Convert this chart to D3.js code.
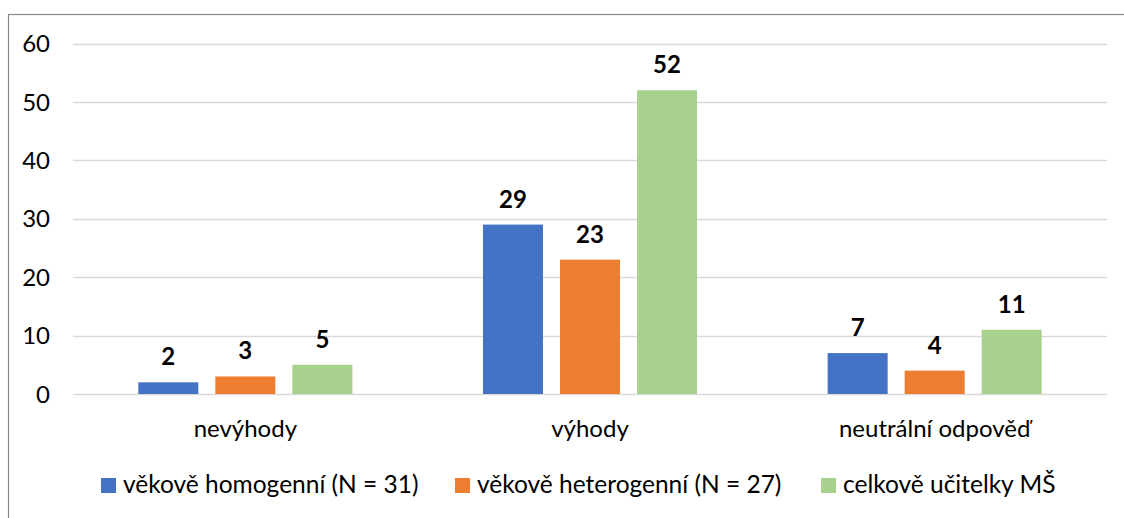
<!DOCTYPE html>
<html><head><meta charset="utf-8">
<script src="https://cdn.jsdelivr.net/npm/d3@7"></script>
<style>body{margin:0;background:#fff}svg{display:block}</style>
</head><body>
<svg id="chart" width="1124" height="518"></svg>
<script>
const categories = ["nevýhody", "výhody", "neutrální odpověď"];
const seriesNames = ["věkově homogenní (N = 31)", "věkově heterogenní (N = 27)", "celkově učitelky MŠ"];
const homogenni = [2, 29, 7];
const heterogenni = [3, 23, 4];
const celkove = [5, 52, 11];
const yTicks = [0, 10, 20, 30, 40, 50, 60];
const colors = ["#4472C4", "#ED7D31", "#A9D18E"];

const seriesValues = [homogenni, heterogenni, celkove];
const svg = d3.select("#chart");
const FONT = "Lato, 'Open Sans', sans-serif";
const FS = 24;

// frame
svg.append("rect").attr("x", 8.5).attr("y", 14.5).attr("width", 1130).attr("height", 520)
  .attr("fill", "#fff").attr("stroke", "#878787").attr("stroke-width", 1.2);

const y = d3.scaleLinear().domain([0, 60]).range([394, 43.5]);
const x0 = d3.scaleBand().domain(categories).range([73, 1107]).paddingInner(0.379).paddingOuter(0.1895);
const x1 = d3.scaleBand().domain(d3.range(seriesNames.length)).range([0, x0.bandwidth()]).paddingInner(0.2208).paddingOuter(0);

// gridlines
svg.append("g").selectAll("line").data(yTicks).join("line")
  .attr("x1", 73).attr("x2", 1107)
  .attr("y1", d => Math.round(y(d)) + 0.5).attr("y2", d => Math.round(y(d)) + 0.5)
  .attr("stroke", "#D9D9D9").attr("stroke-width", 1.3);

// y labels
svg.append("g").selectAll("text").data(yTicks).join("text")
  .attr("x", 50).attr("y", d => y(d)).attr("dy", "0.36em")
  .attr("text-anchor", "end").attr("font-family", FONT).attr("font-size", FS).attr("fill", "#000")
  .text(d => d);

// bars
const groups = svg.append("g").selectAll("g").data(categories).join("g")
  .attr("transform", c => `translate(${x0(c)},0)`);
groups.each(function(c, ci) {
  const g = d3.select(this);
  const data = seriesValues.map((vals, si) => ({si, v: vals[ci]}));
  g.selectAll("rect").data(data).join("rect")
    .attr("x", d => x1(d.si)).attr("width", x1.bandwidth())
    .attr("y", d => y(d.v)).attr("height", d => y(0) - y(d.v))
    .attr("fill", d => colors[d.si]);
  g.selectAll("text").data(data).join("text")
    .attr("x", d => x1(d.si) + x1.bandwidth() / 2).attr("y", d => y(d.v) - 17)
    .attr("text-anchor", "middle").attr("font-family", FONT).attr("font-weight", "bold")
    .attr("font-size", FS).attr("fill", "#000").text(d => d.v);
});

// category labels
svg.append("g").selectAll("text").data(categories).join("text")
  .attr("x", c => x0(c) + x0.bandwidth() / 2).attr("y", 437)
  .attr("text-anchor", "middle").attr("font-family", FONT).attr("font-size", FS).attr("fill", "#000")
  .text(c => c);

// legend
const legendX = [101, 455, 821];
const leg = svg.append("g").selectAll("g").data(seriesNames).join("g")
  .attr("transform", (d, i) => `translate(${legendX[i]},478)`);
leg.append("rect").attr("width", 15).attr("height", 15).attr("fill", (d, i) => colors[i]);
leg.append("text").attr("x", 22).attr("y", 15).attr("font-family", FONT).attr("font-size", 24.5)
  .attr("fill", "#000").text(d => d);
</script>
</body></html>
